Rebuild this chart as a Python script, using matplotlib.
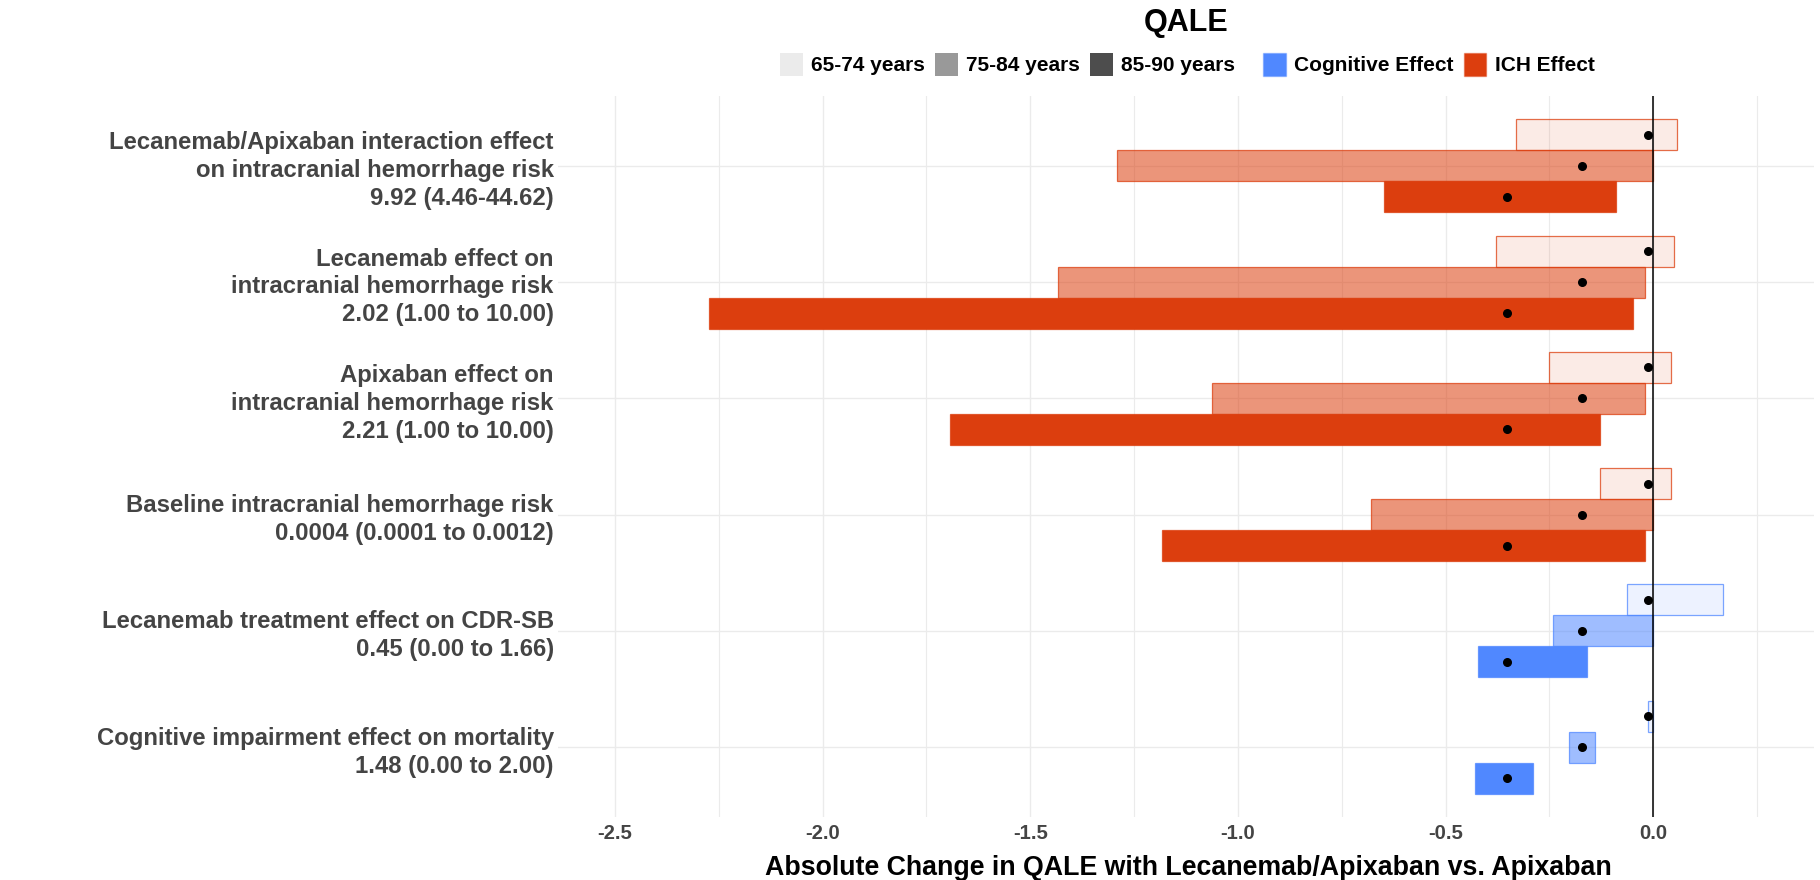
import numpy as np
import matplotlib
matplotlib.use('Agg')
import matplotlib.pyplot as plt
from matplotlib.patches import Patch
from matplotlib.colors import to_rgba

plt.rcParams['font.family'] = ['Liberation Sans', 'DejaVu Sans']
plt.rcParams['font.weight'] = 'bold'

# ------------------------- Data
params = [
    'Lecanemab/Apixaban interaction effect\non intracranial hemorrhage risk\n9.92 (4.46-44.62)',
    'Lecanemab effect on\nintracranial hemorrhage risk\n2.02 (1.00 to 10.00)',
    'Apixaban effect on\nintracranial hemorrhage risk\n2.21 (1.00 to 10.00)',
    'Baseline intracranial hemorrhage risk\n0.0004 (0.0001 to 0.0012)',
    'Lecanemab treatment effect on CDR-SB\n0.45 (0.00 to 1.66)',
    'Cognitive impairment effect on mortality\n1.48 (0.00 to 2.00)',
]
effect = ['ICH', 'ICH', 'ICH', 'ICH', 'Cognitive', 'Cognitive']

age_groups = ['65-74 years', '75-84 years', '85-90 years']
base_qale = [-0.012, -0.171, -0.352]

# low / high end of QALE change per parameter, one list per age group
low_6574 = [-0.331, -0.379, -0.250, -0.129, -0.062, -0.012]
high_6574 = [0.058, 0.051, 0.042, 0.042, 0.168, 0.000]
low_7584 = [-1.292, -1.433, -1.062, -0.680, -0.241, -0.202]
high_7584 = [0.000, -0.020, -0.020, 0.000, 0.000, -0.140]
low_8590 = [-0.649, -2.275, -1.694, -1.183, -0.421, -0.430]
high_8590 = [-0.090, -0.048, -0.129, -0.020, -0.160, -0.290]

lows = [low_6574, low_7584, low_8590]
highs = [high_6574, high_7584, high_8590]

# ------------------------- Style
effect_colors = {'Cognitive': '#5088FF', 'ICH': '#DC3E0E'}
age_alpha = [0.1, 0.55, 1.0]
legend_greys = ['#EBEBEB', '#999999', '#4D4D4D']
bar_h = 0.8 / 3
offsets = [-bar_h, 0, bar_h]

W, H = 1820, 880
fig = plt.figure(figsize=(W / 100, H / 100), dpi=100)
fig.patch.set_facecolor('white')
ax = fig.add_axes([558 / W, 63 / H, 1256 / W, 721 / H])
ax.set_facecolor('white')

y = np.arange(len(params))
for g in range(3):
    for i in range(len(params)):
        col = effect_colors[effect[i]]
        ax.barh(y[i] + offsets[g], highs[g][i] - lows[g][i], left=lows[g][i],
                height=bar_h, facecolor=to_rgba(col, age_alpha[g]),
                edgecolor=to_rgba(col, 0.75), linewidth=0.9, zorder=2)
    ax.scatter([base_qale[g]] * len(params), y + offsets[g], s=30,
               color='black', zorder=4)

ax.axvline(0, color='black', linewidth=1.1, zorder=3)

ax.set_xlim(-2.6375, 0.3875)
ax.set_ylim(len(params) - 0.4, -0.6)
ax.set_xticks(np.arange(-2.5, 0.01, 0.5))
ax.set_xticklabels([f'{v:.1f}' for v in np.arange(-2.5, 0.01, 0.5)])
ax.set_xticks(np.arange(-2.25, 0.3, 0.5), minor=True)
ax.set_yticks(y)
ax.set_yticklabels(params, fontsize=17.2, color='#444444', linespacing=1.27)

ax.grid(True, which='major', color='#EBEBEB', linewidth=1.0, zorder=0)
ax.grid(True, which='minor', axis='x', color='#EBEBEB', linewidth=0.8, zorder=0)
ax.set_axisbelow(True)
for s in ax.spines.values():
    s.set_visible(False)
ax.tick_params(axis='both', which='both', length=0)
ax.tick_params(axis='x', labelsize=14.6, labelcolor='#444444', pad=4.8)
ax.tick_params(axis='y', pad=3)

fig.text(1186 / W, 1 - 31 / H, 'QALE', ha='center', va='baseline',
         fontsize=22, fontweight='bold')
fig.text(1188 / W, 1 - 875 / H,
         'Absolute Change in QALE with Lecanemab/Apixaban vs. Apixaban',
         ha='center', va='baseline', fontsize=19.3, fontweight='bold')

# Legends
leg_kw = dict(frameon=False, fontsize=15.0, handlelength=1.1, handleheight=1.31,
              handletextpad=0.4, columnspacing=0.47, borderpad=0,
              borderaxespad=0)
age_handles = [Patch(facecolor=c, edgecolor='none') for c in legend_greys]
leg1 = fig.legend(age_handles, age_groups, ncol=3, loc='center right',
                  bbox_to_anchor=(1235 / W, 1 - 64.5 / H), **leg_kw)
eff_handles = [Patch(facecolor=effect_colors[k], edgecolor=to_rgba(effect_colors[k], 0.4))
               for k in ['Cognitive', 'ICH']]
leg2 = fig.legend(eff_handles, ['Cognitive Effect', 'ICH Effect'], ncol=2,
                  loc='center left', bbox_to_anchor=(1263 / W, 1 - 64.5 / H), **leg_kw)

plt.savefig('out.png', dpi=100)
